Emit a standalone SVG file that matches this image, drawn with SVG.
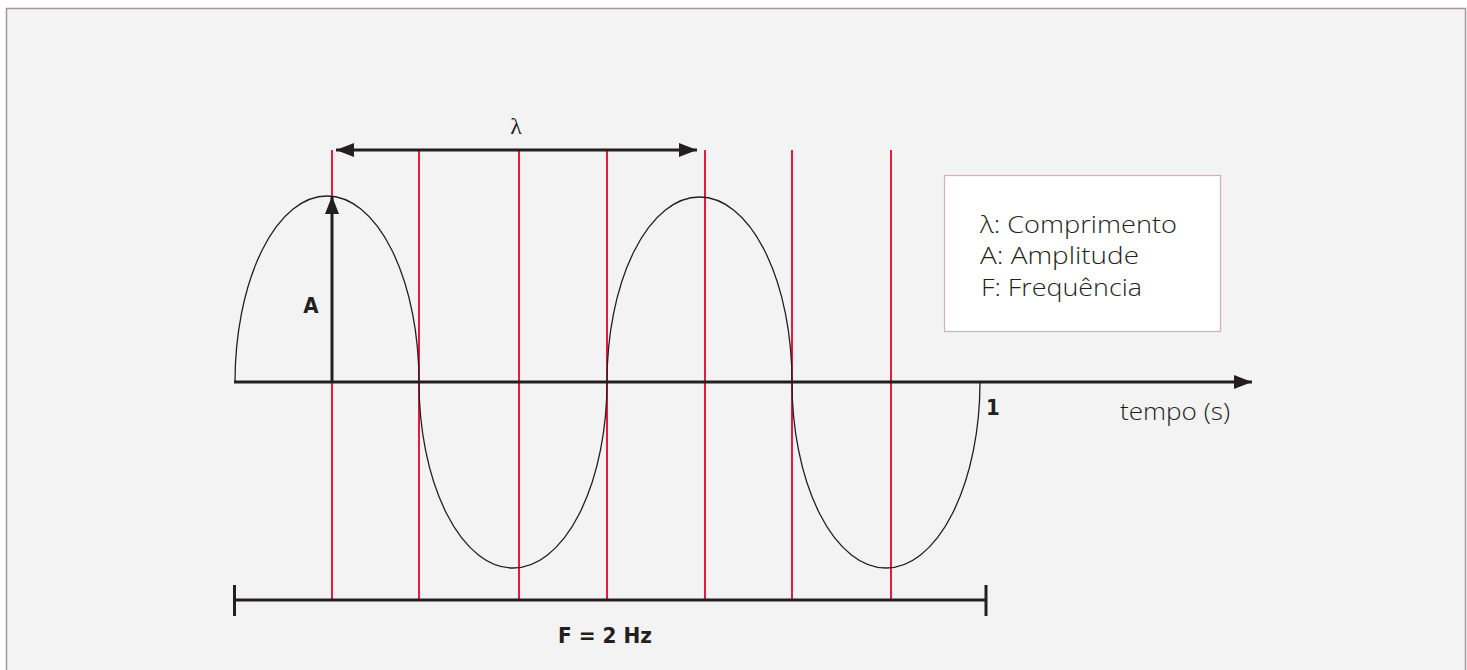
<svg xmlns="http://www.w3.org/2000/svg" width="1467" height="670" viewBox="0 0 1467 670">
<style>
.red{stroke:#e8193c;stroke-width:2;fill:none}
.blk{stroke:#231f20;stroke-width:3;fill:none}
.lbl{font-family:"Open Sans","Noto Sans","Liberation Sans",sans-serif;font-weight:300;fill:#231f20;font-size:23px}
.bold{font-family:"DejaVu Sans Condensed","DejaVu Sans","Liberation Sans",sans-serif;font-weight:bold;fill:#231f20;font-size:22px}
</style>
<defs>
<marker id="ah" markerWidth="20" markerHeight="14" refX="18" refY="7" orient="auto-start-reverse" markerUnits="userSpaceOnUse">
<path d="M0,0 L18,7 L0,14 Z" fill="#231f20"/>
</marker>
</defs>
<rect x="0" y="0" width="1467" height="670" fill="#ffffff"/>
<rect x="6.5" y="8.5" width="1459" height="700" fill="#f3f3f3" stroke="#a89598" stroke-width="1.5"/>
<g id="gridlines">
<line class="red" x1="332" y1="150" x2="332" y2="600"/>
<line class="red" x1="419" y1="150" x2="419" y2="600"/>
<line class="red" x1="519" y1="150" x2="519" y2="600"/>
<line class="red" x1="607" y1="150" x2="607" y2="600"/>
<line class="red" x1="705" y1="150" x2="705" y2="600"/>
<line class="red" x1="792" y1="150" x2="792" y2="600"/>
<line class="red" x1="891" y1="150" x2="891" y2="600"/>
</g>
<g id="wave">
<path d="M235,382 A92,186 0 0 1 419,382 A94,186 0 0 0 607,382 A92.5,185 0 0 1 792,382 A94,186 0 0 0 980,382" fill="none" stroke="#231f20" stroke-width="1.3"/>
</g>
<g id="connectors">
<line class="blk" x1="234" y1="382" x2="1252" y2="382" marker-end="url(#ah)"/>
<line class="blk" x1="332" y1="383" x2="332" y2="196" marker-end="url(#ah)"/>
<line class="blk" x1="336" y1="150" x2="697" y2="150" marker-start="url(#ah)" marker-end="url(#ah)"/>
<line class="blk" x1="234" y1="600" x2="986" y2="600"/>
<line class="blk" x1="234.5" y1="585" x2="234.5" y2="616"/>
<line class="blk" x1="986" y1="585" x2="986" y2="616"/>
</g>
<g id="labels">
<text x="516" y="134" text-anchor="middle" font-family="'Liberation Serif',serif" font-size="24" fill="#231f20">λ</text>
<text class="bold" x="311" y="313" text-anchor="middle">A</text>
<text class="bold" x="993" y="415" text-anchor="middle">1</text>
<text class="lbl" x="1120" y="420" textLength="110" lengthAdjust="spacingAndGlyphs">tempo (s)</text>
<text class="bold" x="558" y="643" textLength="94" lengthAdjust="spacingAndGlyphs">F = 2 Hz</text>
</g>
<g id="legend">
<rect x="944.5" y="175.5" width="276" height="156" fill="#ffffff" stroke="#d4b0b5" stroke-width="1.2"/>
<text class="lbl" x="980" y="233" textLength="197" lengthAdjust="spacingAndGlyphs">λ: Comprimento</text>
<text class="lbl" x="980" y="264" textLength="159" lengthAdjust="spacingAndGlyphs">A: Amplitude</text>
<text class="lbl" x="981" y="296" textLength="161" lengthAdjust="spacingAndGlyphs">F: Frequência</text>
</g>
</svg>
